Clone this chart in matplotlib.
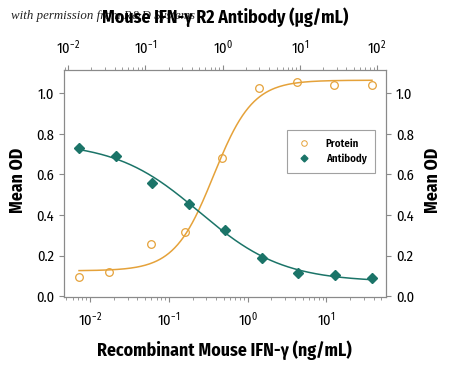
import numpy as np
import matplotlib
matplotlib.use("Agg")
import matplotlib.pyplot as plt
from matplotlib.lines import Line2D

# protein dose (ng/mL, bottom axis) and antibody dose (ug/mL, top axis)
protein_conc = [0.00725, 0.0174, 0.0594, 0.161, 0.473, 1.40, 4.24, 12.5, 37.9]
protein_od = [0.092, 0.117, 0.259, 0.318, 0.682, 1.026, 1.055, 1.041, 1.041]
antibody_conc = [0.0139, 0.0418, 0.122, 0.367, 1.07, 3.24, 9.44, 28.4, 85.7]
antibody_od = [0.731, 0.692, 0.559, 0.456, 0.328, 0.190, 0.116, 0.106, 0.087]

# 4PL fit parameters: bottom, top, EC50, hill
protein_fit = (0.125, 1.065, 0.37, 1.75)
antibody_fit = (0.07, 0.76, 0.50, 0.8)

ORANGE = "#E5A23A"
TEAL = "#1B7468"
GREY = "#8a8a8a"
FONT = "Fira Sans Condensed"

plt.rcParams["font.family"] = [FONT, "DejaVu Sans"]
plt.rcParams["mathtext.fontset"] = "custom"
plt.rcParams["mathtext.rm"] = FONT
plt.rcParams["mathtext.it"] = FONT + ":italic"
plt.rcParams["mathtext.bf"] = FONT + ":bold"


def four_pl(x, bottom, top, ec50, hill):
    return bottom + (top - bottom) / (1 + (ec50 / x) ** hill)


fig = plt.figure(figsize=(4.5, 3.65), dpi=100)

# watermark sits under the top title
fig.text(0.024, 0.955, "with permission from R&D Systems", fontsize=9.3,
         family=["Liberation Serif", "DejaVu Serif"], style="italic",
         color="#222222", va="center")

ax = fig.add_axes([0.143, 0.187, 0.714, 0.621])
ax.set_xscale("log")
ax.set_xlim(10 ** -2.326, 10 ** 1.752)
ax.set_ylim(-0.003, 1.115)

xs = np.logspace(np.log10(protein_conc[0]), np.log10(protein_conc[-1]), 200)
ax.plot(xs, four_pl(xs, *protein_fit), color=ORANGE, lw=1.1)
ax.plot(protein_conc, protein_od, "o", ms=5.5, mfc="none", mec=ORANGE, mew=0.9)

ax2 = ax.twiny()
ax2.set_xscale("log")
ax2.set_xlim(10 ** -2.048, 10 ** 2.11)
xa = np.logspace(np.log10(antibody_conc[0]), np.log10(antibody_conc[-1]), 200)
b, t, ec, h = antibody_fit
ax2.plot(xa, b + (t - b) / (1 + (xa / ec) ** h), color=TEAL, lw=1.1)
ax2.plot(antibody_conc, antibody_od, "D", ms=4.8, color=TEAL, mec=TEAL)

for a in (ax, ax2):
    for s in a.spines.values():
        s.set_color(GREY)
        s.set_linewidth(0.8)

ax.set_yticks([0.0, 0.2, 0.4, 0.6, 0.8, 1.0])
ax.set_yticklabels(["0.0", "0.2", "0.4", "0.6", "0.8", "1.0"])
ax.tick_params(axis="y", which="both", direction="out", length=3.5, color=GREY,
               labelsize=10.5, left=True, right=True, labelleft=True, labelright=True, pad=4)
ax.tick_params(axis="x", which="major", direction="out", length=3.5, color=GREY,
               labelsize=10.5, pad=6)
ax.tick_params(axis="x", which="minor", direction="out", length=2.2, color=GREY)
ax2.tick_params(axis="x", which="major", direction="out", length=3.5, color=GREY,
                labelsize=10.5, pad=6)
ax2.tick_params(axis="x", which="minor", direction="out", length=2.2, color=GREY)

# axis titles placed where the reference has them
fig.text(0.50, 0.953, "Mouse IFN-\u03b3 R2 Antibody (\u00b5g/mL)", ha="center", va="center",
         fontsize=12.8, fontweight="bold")
fig.text(0.498, 0.041, "Recombinant Mouse IFN-\u03b3 (ng/mL)", ha="center", va="center",
         fontsize=12.8, fontweight="bold")
fig.text(0.039, 0.507, "Mean OD", rotation=90, ha="center", va="center",
         fontsize=12.8, fontweight="bold")
fig.text(0.961, 0.507, "Mean OD", rotation=90, ha="center", va="center",
         fontsize=12.8, fontweight="bold")

handles = [
    Line2D([], [], ls="none", marker="o", ms=4, mfc="none", mec=ORANGE, mew=0.7),
    Line2D([], [], ls="none", marker="D", ms=3.5, color=TEAL),
]
leg = ax2.legend(handles, ["Protein", "Antibody"], loc="upper left",
                 bbox_to_anchor=(0.692, 0.735), fontsize=7.8, frameon=True,
                 fancybox=False, edgecolor=GREY, handlelength=1.6,
                 handletextpad=1.2, borderpad=0.8, labelspacing=0.35,
                 borderaxespad=0)
leg.get_frame().set_linewidth(0.8)
for txt in leg.get_texts():
    txt.set_fontweight("semibold")

fig.savefig("out.png", dpi=100)
